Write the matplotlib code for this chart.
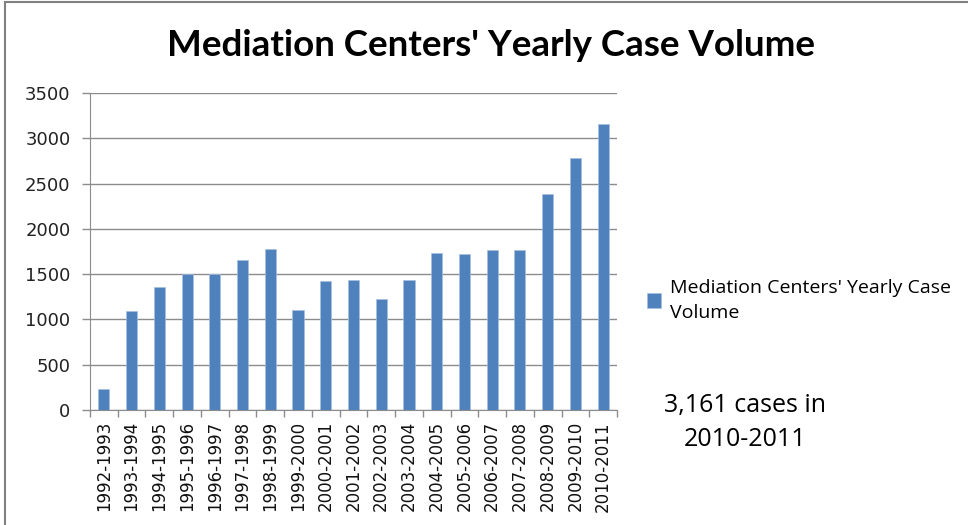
import matplotlib

matplotlib.use("Agg")
import matplotlib.pyplot as plt
import numpy as np
from matplotlib.patches import Rectangle

years = [
    "1992-1993", "1993-1994", "1994-1995", "1995-1996", "1996-1997",
    "1997-1998", "1998-1999", "1999-2000", "2000-2001", "2001-2002",
    "2002-2003", "2003-2004", "2004-2005", "2005-2006", "2006-2007",
    "2007-2008", "2008-2009", "2009-2010", "2010-2011",
]
cases = [230, 1090, 1360, 1500, 1500, 1655, 1775, 1100, 1425, 1435,
         1225, 1435, 1730, 1720, 1765, 1765, 2390, 2780, 3161]
yticks = [0, 500, 1000, 1500, 2000, 2500, 3000, 3500]

BAR = "#4F81BD"
GRID = "#8C8C8C"

fig = plt.figure(figsize=(9.68, 5.25), dpi=100)
fig.patch.set_facecolor("white")

# outer chart border
fig.patches.append(Rectangle((5 / 968, -0.01), 1.2, 1 - 2 / 525 + 0.01,
                             transform=fig.transFigure, fill=False,
                             edgecolor="#808080", linewidth=1.5))

ax = fig.add_axes([90 / 968, 1 - 410 / 525, 527 / 968, 317 / 525])
x = np.arange(len(years))
ax.bar(x, cases, width=0.4, color=BAR, edgecolor="#A7BFDE", linewidth=0.5,
       label="Mediation Centers' Yearly Case\nVolume", zorder=3)

ax.set_xlim(-0.5, len(years) - 0.5)
ax.set_ylim(0, 3500)
ax.set_yticks(yticks)
ax.set_yticklabels([str(v) for v in yticks], fontsize=13, color="#222222")
ax.set_xticks(x)
ax.set_xticklabels(years, rotation=90, fontsize=12, color="#111111")
ax.set_xticks(np.arange(-0.5, len(years)), minor=True)
ax.tick_params(axis="x", which="major", length=0, pad=8)
ax.tick_params(axis="x", which="minor", length=5, color=GRID, width=1)
ax.tick_params(axis="y", length=6, color=GRID, width=1, pad=8)
ax.grid(axis="y", color=GRID, linewidth=1, zorder=0)
ax.set_axisbelow(True)
for side in ("top", "right"):
    ax.spines[side].set_visible(False)
ax.spines["left"].set_color(GRID)
ax.spines["bottom"].set_color(GRID)

fig.text(491 / 968, 1 - 45 / 525, "Mediation Centers' Yearly Case Volume",
         ha="center", va="center", fontsize=26.5, fontweight="bold",
         family="Lato", color="black")

leg = fig.legend(loc="upper left", bbox_to_anchor=(639 / 968, 1 - 271 / 525),
                 frameon=False, handlelength=0.75, handleheight=0.75,
                 handletextpad=0.45, borderaxespad=0,
                 prop={"family": "Open Sans", "size": 14})
for t in leg.get_texts():
    t.set_linespacing(1.5)

fig.text(745 / 968, 1 - 422.5 / 525, "3,161 cases in\n2010-2011", ha="center",
         va="center", fontsize=18, family="Open Sans", linespacing=1.5)

fig.savefig("out.png", dpi=100, facecolor="white")
